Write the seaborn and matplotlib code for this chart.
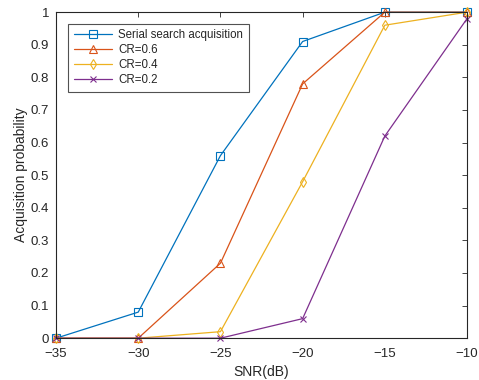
import numpy as np
import pandas as pd
import seaborn as sns
import matplotlib
matplotlib.use("Agg")
import matplotlib.pyplot as plt
from matplotlib.ticker import FuncFormatter

snr_db = [-35, -30, -25, -20, -15, -10]
serial_search = [0.0, 0.08, 0.56, 0.91, 1.0, 1.0]
cr_06 = [0.0, 0.0, 0.23, 0.78, 1.0, 1.0]
cr_04 = [0.0, 0.0, 0.02, 0.48, 0.96, 1.0]
cr_02 = [0.0, 0.0, 0.0, 0.06, 0.62, 0.98]

series_names = ["Serial search acquisition", "CR=0.6", "CR=0.4", "CR=0.2"]
series_values = [serial_search, cr_06, cr_04, cr_02]
colors = ["#0072BD", "#D95319", "#EDB120", "#7E2F8E"]
markers = ["s", "^", "d", "x"]

sns.set_theme(style="white")
plt.rcParams["font.family"] = ["Liberation Sans", "DejaVu Sans"]

fig = plt.figure(figsize=(4.79, 3.80), dpi=100)
ax = fig.add_axes([0.117, 0.110, 0.858, 0.858])

for name, vals, c, m in zip(series_names, series_values, colors, markers):
    df = pd.DataFrame({"SNR": snr_db, "P": vals})
    sns.lineplot(data=df, x="SNR", y="P", ax=ax, color=c, marker=m,
                 markersize=5.5 if m != "x" else 5, mfc="none", mec=c,
                 mew=0.8, linewidth=0.9, label=name, clip_on=False)

ax.set_xlim(-35, -10)
ax.set_ylim(0, 1)
ax.set_xticks(snr_db)
ax.set_yticks(np.round(np.arange(0, 1.01, 0.1), 1))
ax.yaxis.set_major_formatter(FuncFormatter(lambda v, p: f"{v:g}"))
ax.tick_params(direction="in", length=3.5, width=0.6, top=True, right=True,
               labelsize=9.5, colors="#262626")
ax.tick_params(axis="x", pad=7)
ax.tick_params(axis="y", pad=5)
for s in ax.spines.values():
    s.set_visible(True)
    s.set_color("#262626")
    s.set_linewidth(0.8)

ax.set_xlabel("SNR(dB)", fontsize=10, color="#262626", labelpad=4)
ax.set_ylabel("Acquisition probability", fontsize=10, color="#262626", labelpad=2)

leg = ax.legend(loc="upper left", bbox_to_anchor=(0.03, 0.965), fontsize=8.3,
                frameon=True, fancybox=False, borderpad=0.5, labelspacing=0.25,
                handlelength=3.3, handletextpad=0.5, borderaxespad=0)
leg.get_frame().set_edgecolor("#262626")
leg.get_frame().set_linewidth(0.8)

fig.savefig("out.png", dpi=100)
